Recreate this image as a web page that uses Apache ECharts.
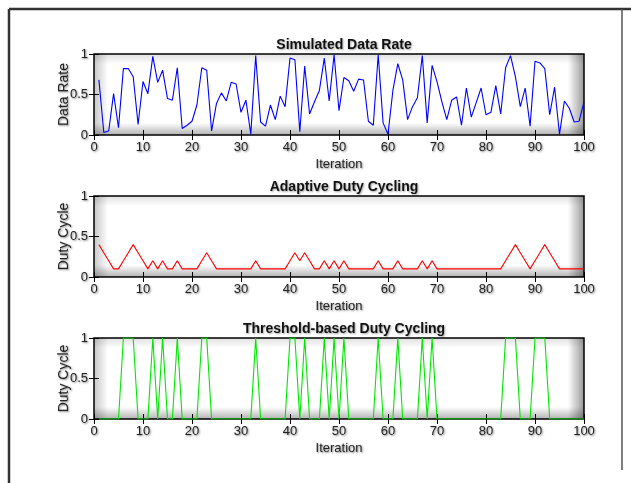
<!DOCTYPE html>
<html>
<head>
<meta charset="utf-8">
<script src="https://cdn.jsdelivr.net/npm/echarts@6/dist/echarts.min.js"></script>
<style>
  html, body { margin: 0; padding: 0; background: #fff; }
  #chart { width: 631px; height: 483px; }
</style>
</head>
<body>
<div id="chart"></div>
<script>
// values, iterations 1..100
var dataRate = [
  0.68, 0.03, 0.05, 0.51, 0.09, 0.82, 0.82, 0.72, 0.13, 0.66,
  0.51, 0.97, 0.65, 0.80, 0.45, 0.43, 0.83, 0.08, 0.12, 0.17,
  0.37, 0.83, 0.80, 0.05, 0.39, 0.52, 0.42, 0.65, 0.63, 0.28,
  0.43, 0.01, 0.98, 0.16, 0.11, 0.37, 0.19, 0.48, 0.35, 0.95,
  0.93, 0.04, 0.85, 0.26, 0.41, 0.55, 0.95, 0.42, 0.99, 0.30,
  0.71, 0.67, 0.54, 0.69, 0.68, 0.17, 0.12, 0.99, 0.15, 0.01,
  0.55, 0.88, 0.68, 0.19, 0.35, 0.46, 0.98, 0.15, 0.86, 0.66,
  0.41, 0.19, 0.43, 0.47, 0.12, 0.58, 0.22, 0.40, 0.58, 0.25,
  0.28, 0.61, 0.26, 0.83, 0.98, 0.72, 0.35, 0.58, 0.11, 0.91,
  0.89, 0.82, 0.25, 0.59, 0.01, 0.42, 0.33, 0.16, 0.17, 0.41
];
var adaptiveDuty = [
  0.4, 0.3, 0.2, 0.1, 0.1, 0.2, 0.3, 0.4, 0.3, 0.2,
  0.1, 0.2, 0.1, 0.2, 0.1, 0.1, 0.2, 0.1, 0.1, 0.1,
  0.1, 0.2, 0.3, 0.2, 0.1, 0.1, 0.1, 0.1, 0.1, 0.1,
  0.1, 0.1, 0.2, 0.1, 0.1, 0.1, 0.1, 0.1, 0.1, 0.2,
  0.3, 0.2, 0.3, 0.2, 0.1, 0.1, 0.2, 0.1, 0.2, 0.1,
  0.2, 0.1, 0.1, 0.1, 0.1, 0.1, 0.1, 0.2, 0.1, 0.1,
  0.1, 0.2, 0.1, 0.1, 0.1, 0.1, 0.2, 0.1, 0.2, 0.1,
  0.1, 0.1, 0.1, 0.1, 0.1, 0.1, 0.1, 0.1, 0.1, 0.1,
  0.1, 0.1, 0.1, 0.2, 0.3, 0.4, 0.3, 0.2, 0.1, 0.2,
  0.3, 0.4, 0.3, 0.2, 0.1, 0.1, 0.1, 0.1, 0.1, 0.1
];
var thresholdDuty = [
  0, 0, 0, 0, 0, 1, 1, 1, 0, 0,
  0, 1, 0, 1, 0, 0, 1, 0, 0, 0,
  0, 1, 1, 0, 0, 0, 0, 0, 0, 0,
  0, 0, 1, 0, 0, 0, 0, 0, 0, 1,
  1, 0, 1, 0, 0, 0, 1, 0, 1, 0,
  1, 0, 0, 0, 0, 0, 0, 1, 0, 0,
  0, 1, 0, 0, 0, 0, 1, 0, 1, 0,
  0, 0, 0, 0, 0, 0, 0, 0, 0, 0,
  0, 0, 0, 1, 1, 1, 0, 0, 0, 1,
  1, 1, 0, 0, 0, 0, 0, 0, 0, 0
];
var titles = ['Simulated Data Rate', 'Adaptive Duty Cycling', 'Threshold-based Duty Cycling'];
var yNames = ['Data Rate', 'Duty Cycle', 'Duty Cycle'];
var lineColors = ['#0000ff', '#ff0000', '#00e600'];
var allSeries = [dataRate, adaptiveDuty, thresholdDuty];

var chart = echarts.init(document.getElementById('chart'));

var LEFT = 94, RIGHT = 584;
var tops = [54, 196, 338];
var H = 81;
var font = 'Liberation Sans, Arial, sans-serif';
var shadowText = {
  color: '#222', fontFamily: font, fontSize: 13,
  textShadowColor: 'rgba(0,0,0,0.5)', textShadowBlur: 2,
  textShadowOffsetX: 1, textShadowOffsetY: 1
};

function pairs(arr) {
  return arr.map(function (v, i) { return [i + 1, v]; });
}

var grids = [], xAxes = [], yAxes = [], series = [], titleList = [], graphics = [];

tops.forEach(function (t, k) {
  grids.push({
    left: LEFT, top: t, width: RIGHT - LEFT, height: H,
    show: true, borderColor: '#000', borderWidth: 1.5, backgroundColor: '#fff'
  });
  // bottom + mirrored top x axis
  xAxes.push({
    gridIndex: k, type: 'value', min: 0, max: 100, interval: 10,
    name: 'Iteration', nameLocation: 'middle', nameGap: 23, nameMoveOverlap: false,
    nameTextStyle: Object.assign({}, shadowText, { fontSize: 13 }),
    axisLine: { show: false },
    axisTick: { inside: true, length: 5, lineStyle: { color: '#000' } },
    axisLabel: Object.assign({ margin: 6 }, shadowText),
    splitLine: { show: false }
  });
  xAxes.push({
    gridIndex: k, type: 'value', min: 0, max: 100, interval: 10, position: 'top',
    axisLine: { show: false },
    axisTick: { inside: true, length: 5, lineStyle: { color: '#000' } },
    axisLabel: { show: false }, splitLine: { show: false }
  });
  yAxes.push({
    gridIndex: k, type: 'value', min: 0, max: 1, interval: 0.5,
    name: yNames[k], nameLocation: 'middle', nameGap: 23, nameMoveOverlap: false,
    nameTextStyle: Object.assign({}, shadowText, { fontSize: 14 }),
    axisLine: { show: false },
    axisTick: { inside: true, length: 5, lineStyle: { color: '#000' } },
    axisLabel: Object.assign({ margin: 6 }, shadowText),
    splitLine: { show: false }
  });
  yAxes.push({
    gridIndex: k, type: 'value', min: 0, max: 1, interval: 0.5, position: 'right',
    axisLine: { show: false },
    axisTick: { inside: true, length: 5, lineStyle: { color: '#000' } },
    axisLabel: { show: false }, splitLine: { show: false }
  });
  series.push({
    type: 'line', xAxisIndex: 2 * k, yAxisIndex: 2 * k,
    data: pairs(allSeries[k]), showSymbol: false, symbol: 'none',
    lineStyle: { color: lineColors[k], width: 1.1 }, z: 5
  });
  titleList.push({
    text: titles[k], left: (LEFT + RIGHT) / 2, top: t - 21, textAlign: 'center',
    textStyle: {
      fontFamily: font, fontSize: 14, fontWeight: 'bold', color: '#111',
      textShadowColor: 'rgba(0,0,0,0.35)', textShadowBlur: 2,
      textShadowOffsetX: 1, textShadowOffsetY: 1
    }
  });

  // inner shading along the box edges
  var W = RIGHT - LEFT;
  function edge(x, y, w, h, x1, y1, x2, y2, a) {
    graphics.push({
      type: 'rect', silent: true, z: 1,
      shape: { x: x, y: y, width: w, height: h },
      style: {
        fill: new echarts.graphic.LinearGradient(x1, y1, x2, y2, [
          { offset: 0, color: 'rgba(0,0,0,' + a + ')' },
          { offset: 1, color: 'rgba(0,0,0,0)' }
        ])
      }
    });
  }
  edge(LEFT, t, 14, H, 0, 0, 1, 0, 0.22);
  edge(RIGHT - 16, t, 16, H, 1, 0, 0, 0, 0.4);
  edge(LEFT, t, W, 10, 0, 0, 0, 1, 0.12);
  edge(LEFT, t + H - 12, W, 12, 0, 1, 0, 0, 0.3);
});

// figure frame
graphics.push({ type: 'line', silent: true, shape: { x1: 9, y1: 9, x2: 631, y2: 9 }, style: { stroke: '#333', lineWidth: 2.5 } });
graphics.push({ type: 'line', silent: true, shape: { x1: 9, y1: 9, x2: 9, y2: 483 }, style: { stroke: '#333', lineWidth: 2.5 } });
graphics.push({ type: 'line', silent: true, shape: { x1: 622, y1: 9, x2: 622, y2: 470 }, style: { stroke: '#555', lineWidth: 1.5 } });

chart.setOption({
  backgroundColor: '#fff',
  animation: false,
  title: titleList,
  grid: grids,
  xAxis: xAxes,
  yAxis: yAxes,
  series: series,
  graphic: graphics
});
</script>
</body>
</html>
